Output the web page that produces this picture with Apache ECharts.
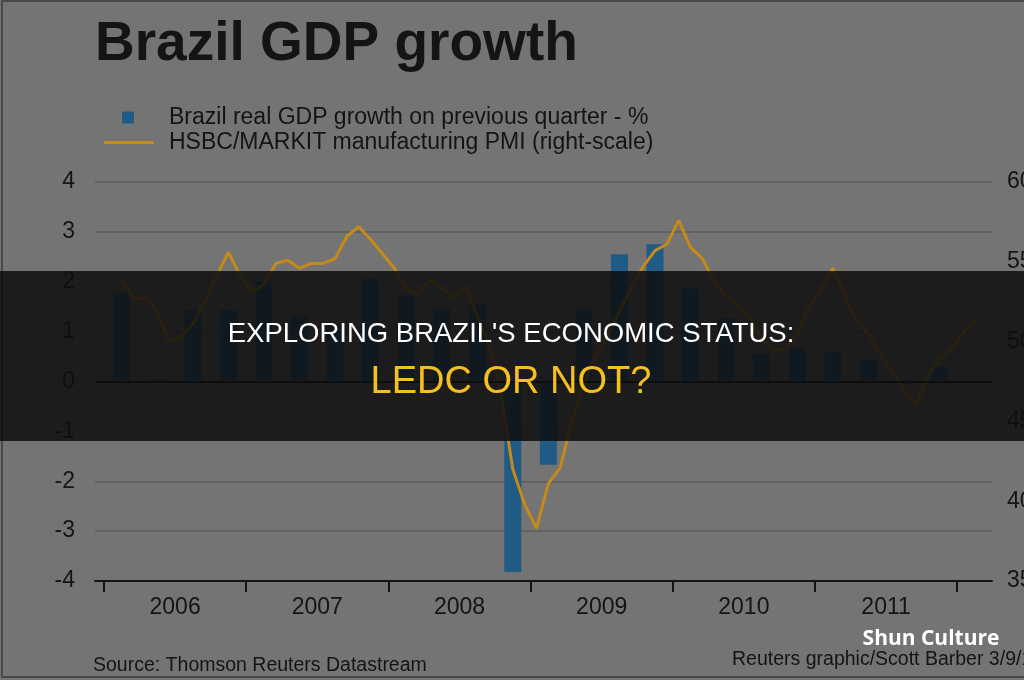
<!DOCTYPE html>
<html>
<head>
<meta charset="utf-8">
<title>Brazil GDP growth</title>
<script src="https://cdn.jsdelivr.net/npm/echarts@6/dist/echarts.min.js"></script>
<style>
html, body { margin: 0; padding: 0; background: #747474; }
#main { width: 1024px; height: 680px; }
</style>
</head>
<body>
<div id="main"></div>
<script>
"use strict";

// 季度 GDP 环比增长 (%)
var quarters = ['2006Q1', '2006Q2', '2006Q3', '2006Q4',
	'2007Q1', '2007Q2', '2007Q3', '2007Q4',
	'2008Q1', '2008Q2', '2008Q3', '2008Q4',
	'2009Q1', '2009Q2', '2009Q3', '2009Q4',
	'2010Q1', '2010Q2', '2010Q3', '2010Q4',
	'2011Q1', '2011Q2', '2011Q3', '2011Q4'];
var gdpGrowth = [1.77, 0.05, 1.44, 1.44,
	2.0, 1.3, 1.15, 2.06,
	1.72, 1.47, 1.54, -3.82,
	-1.67, 1.47, 2.55, 2.75,
	1.87, 1.27, 0.55, 0.67,
	0.6, 0.44, -0.05, 0.3];

// 月度 PMI, 2006-02 起
var pmiStart = [2006, 2];
var pmiValues = [53.9, 52.7, 52.7, 51.9, 50.0, 50.3, 51.1, 52.5, 54.1, 55.6, 54.1,
	53.1, 53.6, 54.9, 55.1, 54.6, 54.9, 54.9, 55.2, 56.6, 57.2, 56.4, 55.5,
	54.6, 53.3, 53.0, 53.9, 53.4, 52.7, 53.4, 51.6, 49.9, 46.8, 42.0, 39.8,
	38.3, 41.1, 42.1, 45.0, 47.3, 49.2, 50.4, 51.9, 53.4, 54.7, 55.7, 56.1,
	57.6, 55.9, 55.2, 53.8, 52.8, 52.3, 51.4, 50.2, 49.5, 49.5, 50.4, 52.2,
	53.2, 54.6, 53.0, 51.2, 50.5, 49.2, 48.1, 47.0, 46.0, 47.8, 48.9, 49.6,
	50.5, 51.4];

var yearLabels = ['2006', '2007', '2008', '2009', '2010', '2011'];

var gdpName = 'Brazil real GDP growth on previous quarter - %';
var pmiName = 'HSBC/MARKIT manufacturing PMI (right-scale)';

var FONT = '"Liberation Sans", Arial, sans-serif';
var INK = '#141414';

// x 轴以 2006-01 起的月数计
function quarterPos(q) {
	var y = parseInt(q.substr(0, 4), 10), n = parseInt(q.substr(5), 10);
	return (y - 2006) * 12 + (n - 1) * 3 + 1.5;
}

var barData = quarters.map(function(q, i) {
	return [quarterPos(q), gdpGrowth[i]];
});
var lineData = pmiValues.map(function(v, i) {
	var m = (pmiStart[0] - 2006) * 12 + (pmiStart[1] - 1) + i;
	return [m + 0.5, v];
});
var yearTicks = [], yearMids = [];
for (var i = 0; i <= yearLabels.length; i++) {
	yearTicks.push(i * 12);
	if (i < yearLabels.length) yearMids.push(i * 12 + 6);
}

var chart = echarts.init(document.getElementById('main'), null, { renderer: 'canvas' });
var option = {
	animation: false,
	backgroundColor: '#747474',
	title: {
		text: 'Brazil GDP growth',
		left: 95,
		top: 17,
		padding: 0,
		textStyle: { fontFamily: FONT, fontSize: 55, fontWeight: 'bold', color: INK }
	},
	legend: [{
		data: [{ name: gdpName, icon: 'path://M0,0 M50,12 M18,0 H30 V12 H18 Z' }],
		left: 104, top: 106, padding: 0,
		itemWidth: 50, itemHeight: 12,
		textStyle: { fontFamily: FONT, fontSize: 23, color: INK, padding: [0, 0, 0, 10] }
	}, {
		data: [{ name: pmiName, icon: 'path://M0,0 M50,12 M0,4.5 H50 V7.5 H0 Z' }],
		left: 104, top: 131, padding: 0,
		itemWidth: 50, itemHeight: 12,
		textStyle: { fontFamily: FONT, fontSize: 23, color: INK, padding: [0, 0, 0, 10] }
	}],
	grid: { left: 95, right: 32, top: 182, bottom: 99, outerBoundsMode: 'none' },
	xAxis: {
		type: 'value',
		min: -0.76,
		max: 74.94,
		axisLine: { onZero: false, lineStyle: { color: INK, width: 2 } },
		axisTick: { show: true, customValues: yearTicks, length: 11, lineStyle: { color: INK, width: 2 } },
		axisLabel: {
			customValues: yearMids,
			formatter: function(v) { return yearLabels[Math.round((v - 6) / 12)]; },
			fontFamily: FONT, fontSize: 23, color: INK, margin: 15
		},
		splitLine: { show: false }
	},
	yAxis: [{
		type: 'value',
		min: -4, max: 4, interval: 1,
		axisLine: { show: false },
		axisTick: { show: false },
		axisLabel: { fontFamily: FONT, fontSize: 23, color: INK, margin: 20 },
		splitLine: { lineStyle: { color: '#626262', width: 2 } }
	}, {
		type: 'value',
		position: 'right',
		min: 35, max: 60, interval: 5,
		axisLine: { show: false },
		axisTick: { show: false },
		axisLabel: { fontFamily: FONT, fontSize: 23, color: INK, margin: 15 },
		splitLine: { show: false }
	}],
	series: [{
		name: gdpName,
		type: 'bar',
		data: barData,
		barWidth: 17,
		itemStyle: { color: '#1f5b84' },
		markLine: {
			silent: true,
			symbol: 'none',
			label: { show: false },
			lineStyle: { color: INK, width: 2, type: 'solid' },
			data: [{ yAxis: 0 }]
		}
	}, {
		name: pmiName,
		type: 'line',
		yAxisIndex: 1,
		data: lineData,
		symbol: 'none',
		z: 3,
		lineStyle: { color: '#c48a1a', width: 3 },
		itemStyle: { color: '#c48a1a' }
	}],
	graphic: [{
		type: 'rect', z: 90, silent: true,
		shape: { x: 2, y: 1, width: 1040, height: 676 },
		style: { fill: 'none', stroke: '#4a4a4a', lineWidth: 2 }
	}, {
		type: 'text', z: 90, silent: true,
		style: { text: 'Source: Thomson Reuters Datastream', x: 93, y: 666,
			font: '19.5px ' + FONT, fill: INK, textAlign: 'left', textVerticalAlign: 'middle' }
	}, {
		type: 'text', z: 90, silent: true,
		style: { text: 'Reuters graphic/Scott Barber 3/9/12', x: 732, y: 660,
			font: '19.5px ' + FONT, fill: INK, textAlign: 'left', textVerticalAlign: 'middle' }
	}, {
		// 中间的暗色横条
		type: 'rect', z: 100, silent: true,
		shape: { x: 0, y: 271, width: 1024, height: 170 },
		style: { fill: 'rgba(14,14,14,0.86)' }
	}, {
		type: 'text', z: 101, silent: true,
		style: { text: "EXPLORING BRAZIL'S ECONOMIC STATUS:", x: 511, y: 334,
			font: '27.5px ' + FONT, fill: '#ffffff', textAlign: 'center', textVerticalAlign: 'middle' }
	}, {
		type: 'text', z: 101, silent: true,
		style: { text: 'LEDC OR NOT?', x: 511, y: 383,
			font: '38px ' + FONT, fill: '#f5c01f', textAlign: 'center', textVerticalAlign: 'middle' }
	}, {
		type: 'text', z: 101, silent: true,
		style: { text: 'Shun Culture', x: 931, y: 639,
			font: 'bold 21px "Open Sans", sans-serif', fill: '#ffffff',
			textAlign: 'center', textVerticalAlign: 'middle' }
	}]
};
chart.setOption(option);
</script>
</body>
</html>
